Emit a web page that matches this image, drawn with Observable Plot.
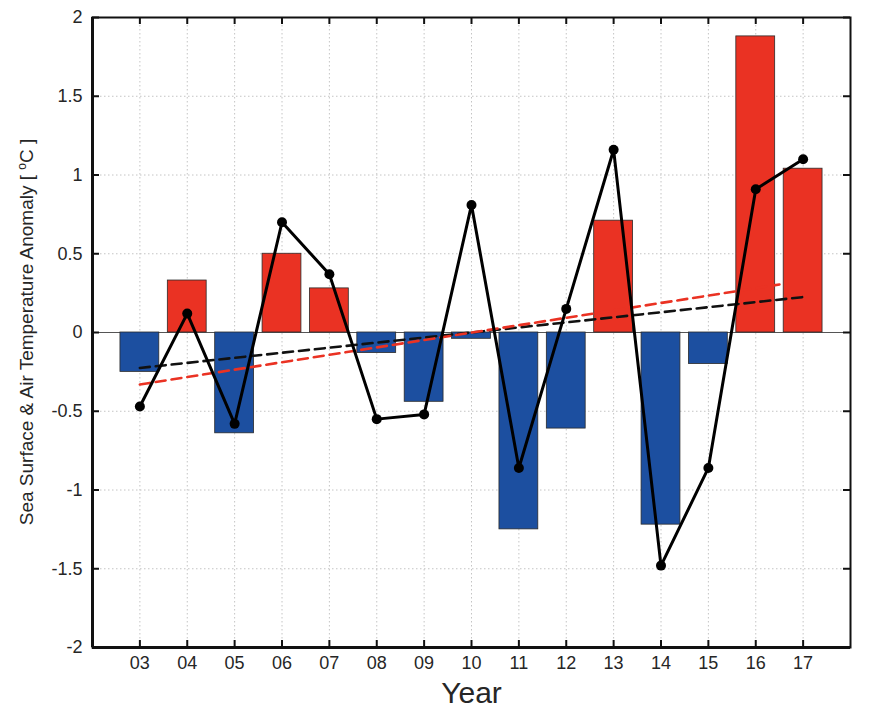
<!DOCTYPE html>
<html>
<head>
<meta charset="utf-8">
<script src="https://cdn.jsdelivr.net/npm/d3@7"></script>
<script src="https://cdn.jsdelivr.net/npm/@observablehq/plot@0.6"></script>
<style>
  html, body { margin: 0; padding: 0; background: #fff; }
  #chart svg { display: block; }
</style>
</head>
<body>
<div id="chart"></div>
<script>
// ---- data ----
const years = [3, 4, 5, 6, 7, 8, 9, 10, 11, 12, 13, 14, 15, 16, 17];
const yearLabels = ["03", "04", "05", "06", "07", "08", "09", "10", "11", "12", "13", "14", "15", "16", "17"];
const barValues = [-0.25, 0.33, -0.64, 0.50, 0.28, -0.13, -0.44, -0.04, -1.25, -0.61, 0.71, -1.22, -0.20, 1.88, 1.04];
const lineValues = [-0.47, 0.12, -0.58, 0.70, 0.37, -0.55, -0.52, 0.81, -0.86, 0.15, 1.16, -1.48, -0.86, 0.91, 1.10];
const blackTrendYears = [3, 17];
const blackTrendValues = [-0.225, 0.225];
const redTrendYears = [3, 16.5];
const redTrendValues = [-0.33, 0.305];
const yTicks = [-2, -1.5, -1, -0.5, 0, 0.5, 1, 1.5, 2];
const yTickLabels = ["-2", "-1.5", "-1", "-0.5", "0", "0.5", "1", "1.5", "2"];

const bars = years.map((yr, i) => ({year: yr, value: barValues[i]}));
const line = years.map((yr, i) => ({year: yr, value: lineValues[i]}));
const blackTrend = blackTrendYears.map((yr, i) => ({year: yr, value: blackTrendValues[i]}));
const redTrend = redTrendYears.map((yr, i) => ({year: yr, value: redTrendValues[i]}));

const RED = "#EA3223";
const BLUE = "#1C4FA0";
const TEXT = "#262626";
const halfBar = 0.41;

const W = 878, H = 719;
const mL = 92, mR = 28, mT = 17, mB = 72;
const plotW = W - mL - mR, plotH = H - mT - mB;
const tickLen = 7;

const chart = Plot.plot({
  width: W, height: H,
  marginLeft: mL, marginRight: mR, marginTop: mT, marginBottom: mB,
  x: {domain: [2, 18]},
  y: {domain: [-2, 2]},
  style: {fontFamily: "'Liberation Sans', Arial, Helvetica, sans-serif", background: "white"},
  marks: [
    Plot.gridX(years, {stroke: "#c4c4c4", strokeOpacity: 1, strokeDasharray: "1.5,2.5", strokeWidth: 1}),
    Plot.gridY(yTicks, {stroke: "#c4c4c4", strokeOpacity: 1, strokeDasharray: "1.5,2.5", strokeWidth: 1}),
    Plot.ruleY([0], {stroke: "#555", strokeWidth: 1}),
    Plot.rectY(bars, {
      x1: d => d.year - halfBar, x2: d => d.year + halfBar,
      y1: 0, y2: "value",
      fill: d => d.value >= 0 ? RED : BLUE,
      stroke: "#2a2a2a", strokeWidth: 0.8
    }),
    Plot.line(blackTrend, {x: "year", y: "value", stroke: "#111", strokeWidth: 2.6, strokeDasharray: "10,6"}),
    Plot.line(redTrend, {x: "year", y: "value", stroke: RED, strokeWidth: 2.6, strokeDasharray: "10,6"}),
    Plot.line(line, {x: "year", y: "value", stroke: "#000", strokeWidth: 3, strokeLinejoin: "round"}),
    Plot.dot(line, {x: "year", y: "value", r: 5, fill: "#000"}),
    // inward tick marks (MATLAB style)
    Plot.ruleX(years, {x: d => d, insetTop: plotH - tickLen, stroke: "#111", strokeWidth: 2}),
    Plot.ruleX(years, {x: d => d, insetBottom: plotH - tickLen, stroke: "#111", strokeWidth: 2}),
    Plot.ruleY(yTicks, {y: d => d, insetRight: plotW - tickLen, stroke: "#111", strokeWidth: 2}),
    Plot.ruleY(yTicks, {y: d => d, insetLeft: plotW - tickLen, stroke: "#111", strokeWidth: 2}),
    Plot.frame({stroke: "#111", strokeWidth: 2}),
    Plot.ruleX([2], {stroke: "#111", strokeWidth: 3}),
    Plot.ruleY([-2], {stroke: "#111", strokeWidth: 3}),
    Plot.axisX(years, {
      tickSize: 0, tickPadding: 9, fontSize: 18, fill: TEXT, label: null,
      tickFormat: d => yearLabels[years.indexOf(d)]
    }),
    Plot.axisY(yTicks, {
      tickSize: 0, tickPadding: 10, fontSize: 18, fill: TEXT, label: null,
      tickFormat: d => yTickLabels[yTicks.indexOf(d)]
    }),
    Plot.text(["Year"], {frameAnchor: "bottom", dy: 46, text: d => d, fontSize: 30, fill: TEXT, lineAnchor: "middle"})
  ]
});

document.getElementById("chart").appendChild(chart);

// y-axis title with superscript degree "o"
const svg = d3.select(chart);
const yl = svg.append("text")
  .attr("transform", `translate(33,${mT + plotH / 2}) rotate(-90)`)
  .attr("text-anchor", "middle")
  .attr("font-family", "'Liberation Sans', Arial, Helvetica, sans-serif")
  .attr("font-size", 19)
  .attr("fill", TEXT);
yl.append("tspan").text("Sea Surface & Air Temperature Anomaly [ ");
yl.append("tspan").attr("font-size", 12).attr("dy", -7).text("o");
yl.append("tspan").attr("dy", 7).text("C ]");
</script>
</body>
</html>
